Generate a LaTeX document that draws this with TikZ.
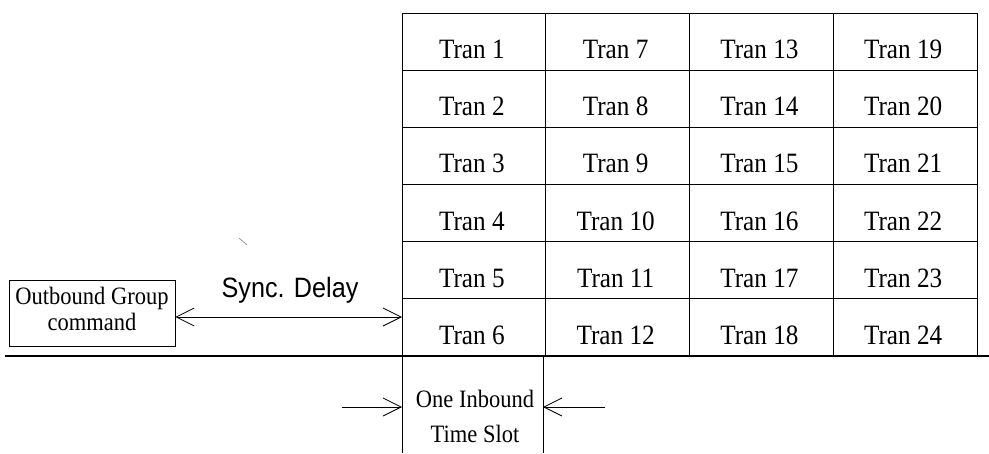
\documentclass[tikz,border=0pt]{standalone}
\usepackage{fontspec}
\setmainfont{Liberation Serif}[FakeStretch=0.9]
\setsansfont{Liberation Sans}[FakeStretch=0.9]
\usetikzlibrary{arrows.meta}
\begin{document}
\begin{tikzpicture}[x=1pt,y=-1pt,
  cell/.style={draw, line width=0.7pt, minimum width=143.75pt, minimum height=57.167pt, inner sep=0pt},
  celltext/.style={inner sep=0pt, anchor=base, font=\fontsize{28}{32}\selectfont},
  boxstyle/.style={draw, line width=0.8pt, minimum width=166pt, minimum height=66pt, inner sep=0pt},
  lbl/.style={font=\fontsize{25}{29}\selectfont, inner sep=0pt, anchor=base},
  barb/.tip={Straight Barb[length=18pt,width=18pt,line width=0.8pt]},
  arr/.style={line width=0.8pt, barb-barb},
  onearr/.style={line width=0.8pt, -barb}
]
\useasboundingbox (0,0) rectangle (989,453);
\fill[white] (0,0) rectangle (989,453);
\foreach \c in {0,...,3}{
  \foreach \r in {0,...,5}{
    \pgfmathtruncatemacro{\n}{\c*6+\r+1}
    \node[cell] (t\n) at ({402+143.75*(\c+0.5)},{13+57.167*(\r+0.5)}) {};
    \node[celltext] (tx\n) at ({400+143.75*(\c+0.5)},{13+57.167*\r+45.5}) {Tran \n};
  }
}
% base line
\coordinate (bl) at (5,356);
\coordinate (br) at (989,356);
\draw[line width=2.4pt] (bl) -- (br);
% slot lines
\coordinate (s1t) at (402,356);
\coordinate (s1b) at (402,453);
\coordinate (s2t) at (543,356);
\coordinate (s2b) at (543,453);
\draw[line width=0.7pt] (s1t) -- (s1b);
\draw[line width=0.7pt] (s2t) -- (s2b);
\node[lbl] (slot1) at (475,407) {One Inbound};
\node[lbl] (slot2) at (475,442) {Time Slot};
\coordinate (la) at (342,407);
\coordinate (lb) at (402,407);
\coordinate (ra) at (605,407);
\coordinate (rb) at (543,407);
\draw[onearr] (la) -- (lb);
\draw[onearr] (ra) -- (rb);
% outbound box
\node[boxstyle] (ob) at (92,313) {};
\node[lbl] (ob1) at (92,304) {Outbound Group};
\node[lbl] (ob2) at (92,330) {command};
\coordinate (gl) at (402,317);
\draw[arr] ([yshift=-4pt]ob.east) -- (gl);
\node[font=\sffamily\fontsize{28}{32}\selectfont, anchor=base, inner sep=0pt] (sd) at (290,297) {Sync. Delay};
% small stray mark
\draw[line width=0.6pt, gray] (239,238) -- (247,245);
\end{tikzpicture}
\end{document}
